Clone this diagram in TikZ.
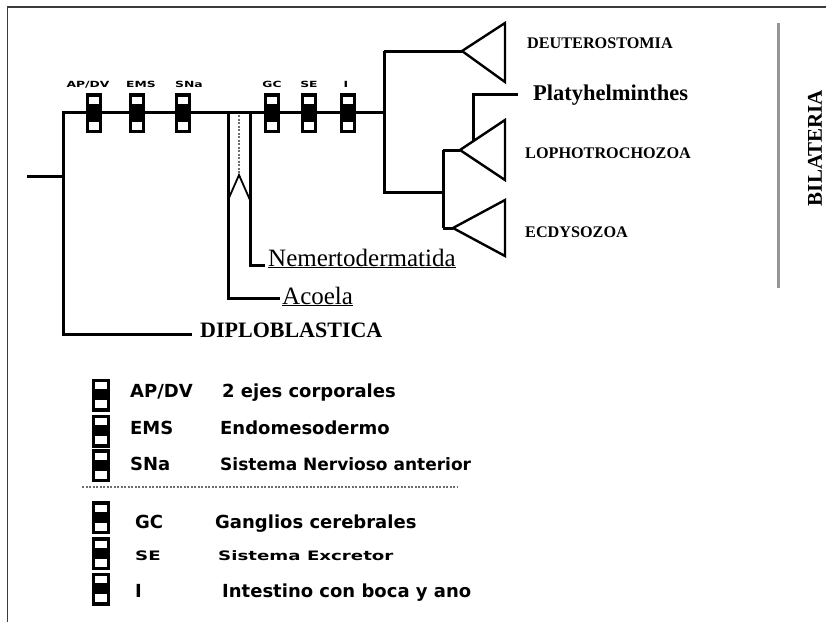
\documentclass[tikz,border=0pt]{standalone}
\usepackage{fontspec}
\setmainfont{Liberation Serif}
\newfontfamily\legfont{DejaVu Sans}
\usetikzlibrary{positioning}
\definecolor{frameG}{RGB}{60,60,60}
\definecolor{barG}{RGB}{150,150,150}
\definecolor{dotG}{RGB}{110,110,110}
\newcommand{\fsz}[1]{\fontsize{#1}{#1}\selectfont}

\begin{document}
\begin{tikzpicture}[x=1pt, y=-1pt,
  br/.style={line width=3pt, line join=miter},
  tri/.style={line width=2.4pt, line join=miter},
  charbox/.style={rectangle, fill=black, draw=black, line width=1pt,
    minimum width=15pt, minimum height=39pt, inner sep=0pt,
    path picture={
      \fill[white] ([xshift=2.5pt,yshift=-3pt]path picture bounding box.north west)
        rectangle ([xshift=-2.5pt,yshift=-10pt]path picture bounding box.north east);
      \fill[white] ([xshift=2.5pt,yshift=3pt]path picture bounding box.south west)
        rectangle ([xshift=-2.5pt,yshift=11pt]path picture bounding box.south east);}},
  keybox/.style={charbox, minimum width=17pt, minimum height=32pt},
  charlbl/.style={font=\legfont\bfseries\fsz{8.5}, inner sep=0pt, anchor=base},
  clade/.style={font=\bfseries\fsz{16.2}, inner sep=0pt, anchor=base west},
  taxon/.style={font=\fsz{25}, inner sep=0pt, anchor=base west},
  legabbr/.style={font=\legfont\bfseries\fsz{18}, inner sep=0pt, anchor=base west},
  legtxt/.style={font=\legfont\bfseries\fsz{18}, inner sep=0pt, anchor=base west}]
  \useasboundingbox (0,0) rectangle (826,622);
  % frame
  \draw[frameG, line width=1.6pt] (7.5,622) -- (7.5,6.7) -- (826,6.7);

  % main stem
  \coordinate (root) at (27,176);
  \coordinate (n0) at (63,176);
  \coordinate (n0top) at (63,112);
  \coordinate (n0bot) at (63,334);
  \coordinate (n1) at (384,112);
  \draw[br] (root) -- (n0);
  \node[taxon, font=\bfseries\fsz{22}] (diplo) at (200,337) {DIPLOBLASTICA};
  \coordinate (diploend) at (192,334);
  \draw[br] (diploend) -- (n0bot) -- (n0top) -- (n1);

  % acoelomorpha
  \coordinate (acb) at (228,112);
  \coordinate (nmb) at (250,112);
  \node[taxon] (acoela) at (282,304) {\underline{Acoela}};
  \node[taxon] (nemer) at (268,266) {\underline{Nemertodermatida}};
  \coordinate (acend) at (280,298);
  \coordinate (nmend) at (265,265);
  \draw[br] (acb) |- (acend);
  \draw[br] (nmb) |- (nmend);
  \coordinate (tip) at (239,175);
  \draw[dotG, line width=1.8pt, dash pattern=on 2pt off 1.5pt] (239,115) -- (tip);
  \draw[line width=1.8pt] (228,200) -- (tip) -- (250,200);

  % characters on the stem
  \node[charbox] (apdv) at (94,113) {};
  \node[charbox] (ems) at (137,113) {};
  \node[charbox] (sna) at (183,113) {};
  \node[charbox] (gc) at (272,113) {};
  \node[charbox] (se) at (309,113) {};
  \node[charbox] (int) at (348,113) {};
  \node[charlbl] at (88,87) {\scalebox{1.45}[1]{AP/DV}};
  \node[charlbl] at (141,87) {\scalebox{1.45}[1]{EMS}};
  \node[charlbl] at (189,87) {\scalebox{1.45}[1]{SNa}};
  \node[charlbl] at (272,87) {\scalebox{1.45}[1]{GC}};
  \node[charlbl] at (309,87) {\scalebox{1.45}[1]{SE}};
  \node[charlbl] at (346,87) {\scalebox{1.45}[1]{I}};

  % bilateria
  \coordinate (n2) at (384,51);
  \coordinate (n3) at (384,192);
  \coordinate (n4) at (443,192);
  \draw[br] (n2) -- (n3) -- (n4);
  \draw[br] (n2) -- (462,51);
  \draw[br] (443,150) -- (443,228);
  \draw[br] (443,150) -- (460,150);
  \draw[br] (443,228) -- (453,228);
  \draw[tri] (505,23) -- (462,51) -- (505,82) -- cycle;
  \draw[tri] (505,120) -- (460,150) -- (505,180) -- cycle;
  \draw[tri] (505,200) -- (453,228) -- (505,256) -- cycle;
  \draw[br] (518,94) -- (473,94) -- (473,141);
  \node[clade] (deut) at (527,48) {DEUTEROSTOMIA};
  \node[taxon, font=\bfseries\fsz{22.5}] (platy) at (533,100) {Platyhelminthes};
  \node[clade] (loph) at (525,158) {LOPHOTROCHOZOA};
  \node[clade] (ecdy) at (525,237) {ECDYSOZOA};
  \draw[barG, line width=3pt] (778,23) -- (778,288);
  \node[font=\bfseries\fsz{21}, rotate=90, inner sep=0pt] (bila) at (815,148) {BILATERIA};

  % legend
  \node[keybox] (k1) at (100.5,395) {};
  \node[keybox] (k2) at (100.5,431) {};
  \node[keybox] (k3) at (100.5,465.5) {};
  \node[keybox] (k4) at (100.5,517.5) {};
  \node[keybox] (k5) at (100.5,553.5) {};
  \node[keybox] (k6) at (100.5,589) {};
  \node[legabbr] (a1) at (130,397) {AP/DV};
  \node[legabbr] (a2) at (130,434) {EMS};
  \node[legabbr] (a3) at (130,470) {SNa};
  \node[legabbr] (a4) at (135,528) {GC};
  \node[legabbr, font=\legfont\bfseries\fsz{13}] (a5) at (135,560) {\scalebox{1.4}[1]{SE}};
  \node[legabbr] (a6) at (135,597) {I};
  \node[legtxt] (t1) at (222,397) {2 ejes corporales};
  \node[legtxt] (t2) at (220,434) {Endomesodermo};
  \node[legtxt, font=\legfont\bfseries\fsz{17}] (t3) at (220,470) {Sistema Nervioso anterior};
  \node[legtxt] (t4) at (215,528) {Ganglios cerebrales};
  \node[legtxt, font=\legfont\bfseries\fsz{13}] (t5) at (218,560) {\scalebox{1.4}[1]{Sistema Excretor}};
  \node[legtxt] (t6) at (222,597) {Intestino con boca y ano};
  \coordinate (sepL) at (82,487);
  \coordinate (sepR) at (458,487);
  \draw[dotG, line width=1.8pt, dash pattern=on 2pt off 1.5pt] (sepL) -- (sepR);
\end{tikzpicture}
\end{document}
